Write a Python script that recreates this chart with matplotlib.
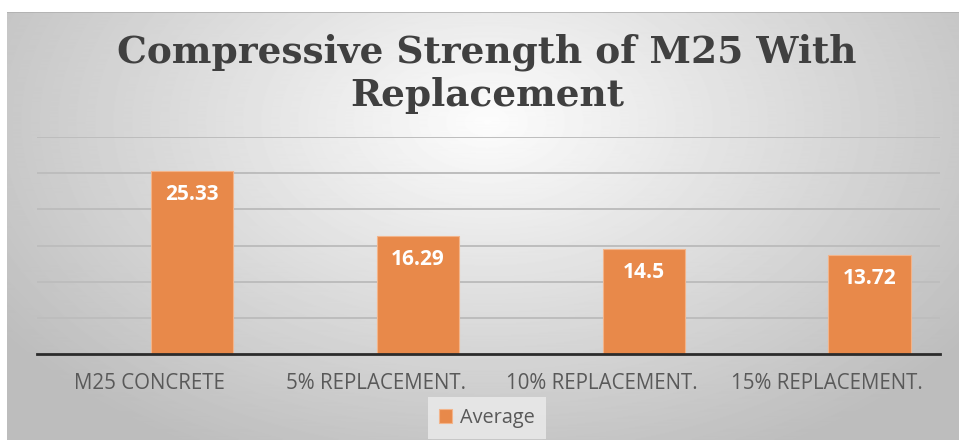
import matplotlib.pyplot as plt
import numpy as np

categories = ['M25 CONCRETE', '5% REPLACEMENT.', '10% REPLACEMENT.', '15% REPLACEMENT.']
average = [25.33, 16.29, 14.5, 13.72]
title = 'Compressive Strength of M25 With\nReplacement'

W, H = 959, 440


def main():
    fig = plt.figure(figsize=(W / 100, H / 100), dpi=100)

    # grey radial-ish background panel
    bg = fig.add_axes([7 / W, 0, 1 - 7 / W, 1 - 12 / H])
    yy, xx = np.mgrid[0:428, 0:952]
    r = np.sqrt(((xx - 480) / 520.0) ** 2 + ((yy - 110) / 330.0) ** 2)
    shade = np.clip(0.99 - 0.22 * r, 0.74, 1.0)
    bg.imshow(shade, cmap='gray', vmin=0, vmax=1, aspect='auto',
              extent=(0, 1, 0, 1), origin='upper')
    bg.set_axis_off()
    bg.plot([0, 1], [0.999, 0.999], color='#b0b0b0', lw=1.2, transform=bg.transAxes)

    ax = fig.add_axes([37 / W, 1 - 354 / H, (940 - 37) / W, (354 - 137) / H])
    ax.set_facecolor('none')
    x = np.arange(len(categories))
    bars = ax.bar(x + 0.005, average, width=0.365, align='edge',
                  color='#e8894a', edgecolor='#f3b48a', linewidth=0.8,
                  label='Average', zorder=3)
    for b, v in zip(bars, average):
        ax.annotate(f'{v:g}', (b.get_x() + b.get_width() / 2, v),
                    xytext=(0, -17), textcoords='offset points',
                    ha='center', va='center', color='white',
                    fontsize=15, fontweight='bold', family='Open Sans', zorder=4)

    ax.set_xlim(-0.5, 3.5)
    ax.set_ylim(0, 30)
    ax.set_yticks(np.arange(5, 31, 5))
    ax.yaxis.grid(True, color='#bdbdbd', lw=1.4)
    ax.tick_params(axis='y', left=False, labelleft=False)
    ax.set_xticks(x)
    ax.set_xticklabels(categories, fontsize=14.8, color='#595959', family='Open Sans')
    ax.tick_params(axis='x', length=0, pad=14)
    for s in ['top', 'right', 'left']:
        ax.spines[s].set_visible(False)
    ax.spines['bottom'].set_color('#2b2b2b')
    ax.spines['bottom'].set_linewidth(2)
    ax.spines['bottom'].set_zorder(5)

    fig.text(487 / W, 1 - 74 / H, title, ha='center', va='center',
             multialignment='center', fontsize=27, fontweight='bold',
             family='DejaVu Serif', color='#404040', linespacing=1.2)

    leg = fig.legend(handles=[bars], labels=['Average'], loc='center',
                     bbox_to_anchor=(487 / W, 1 - 418 / H), frameon=True,
                     handlelength=0.65, handleheight=0.65,
                     handletextpad=0.4, borderpad=0.55, fancybox=False,
                     prop={'family': 'Open Sans', 'size': 14.3})
    leg.get_frame().set_facecolor('#e8e8e8')
    leg.get_frame().set_edgecolor('none')
    leg.get_frame().set_alpha(0.9)
    for t in leg.get_texts():
        t.set_color('#595959')

    fig.savefig('out.png', dpi=100)


if __name__ == '__main__':
    main()
